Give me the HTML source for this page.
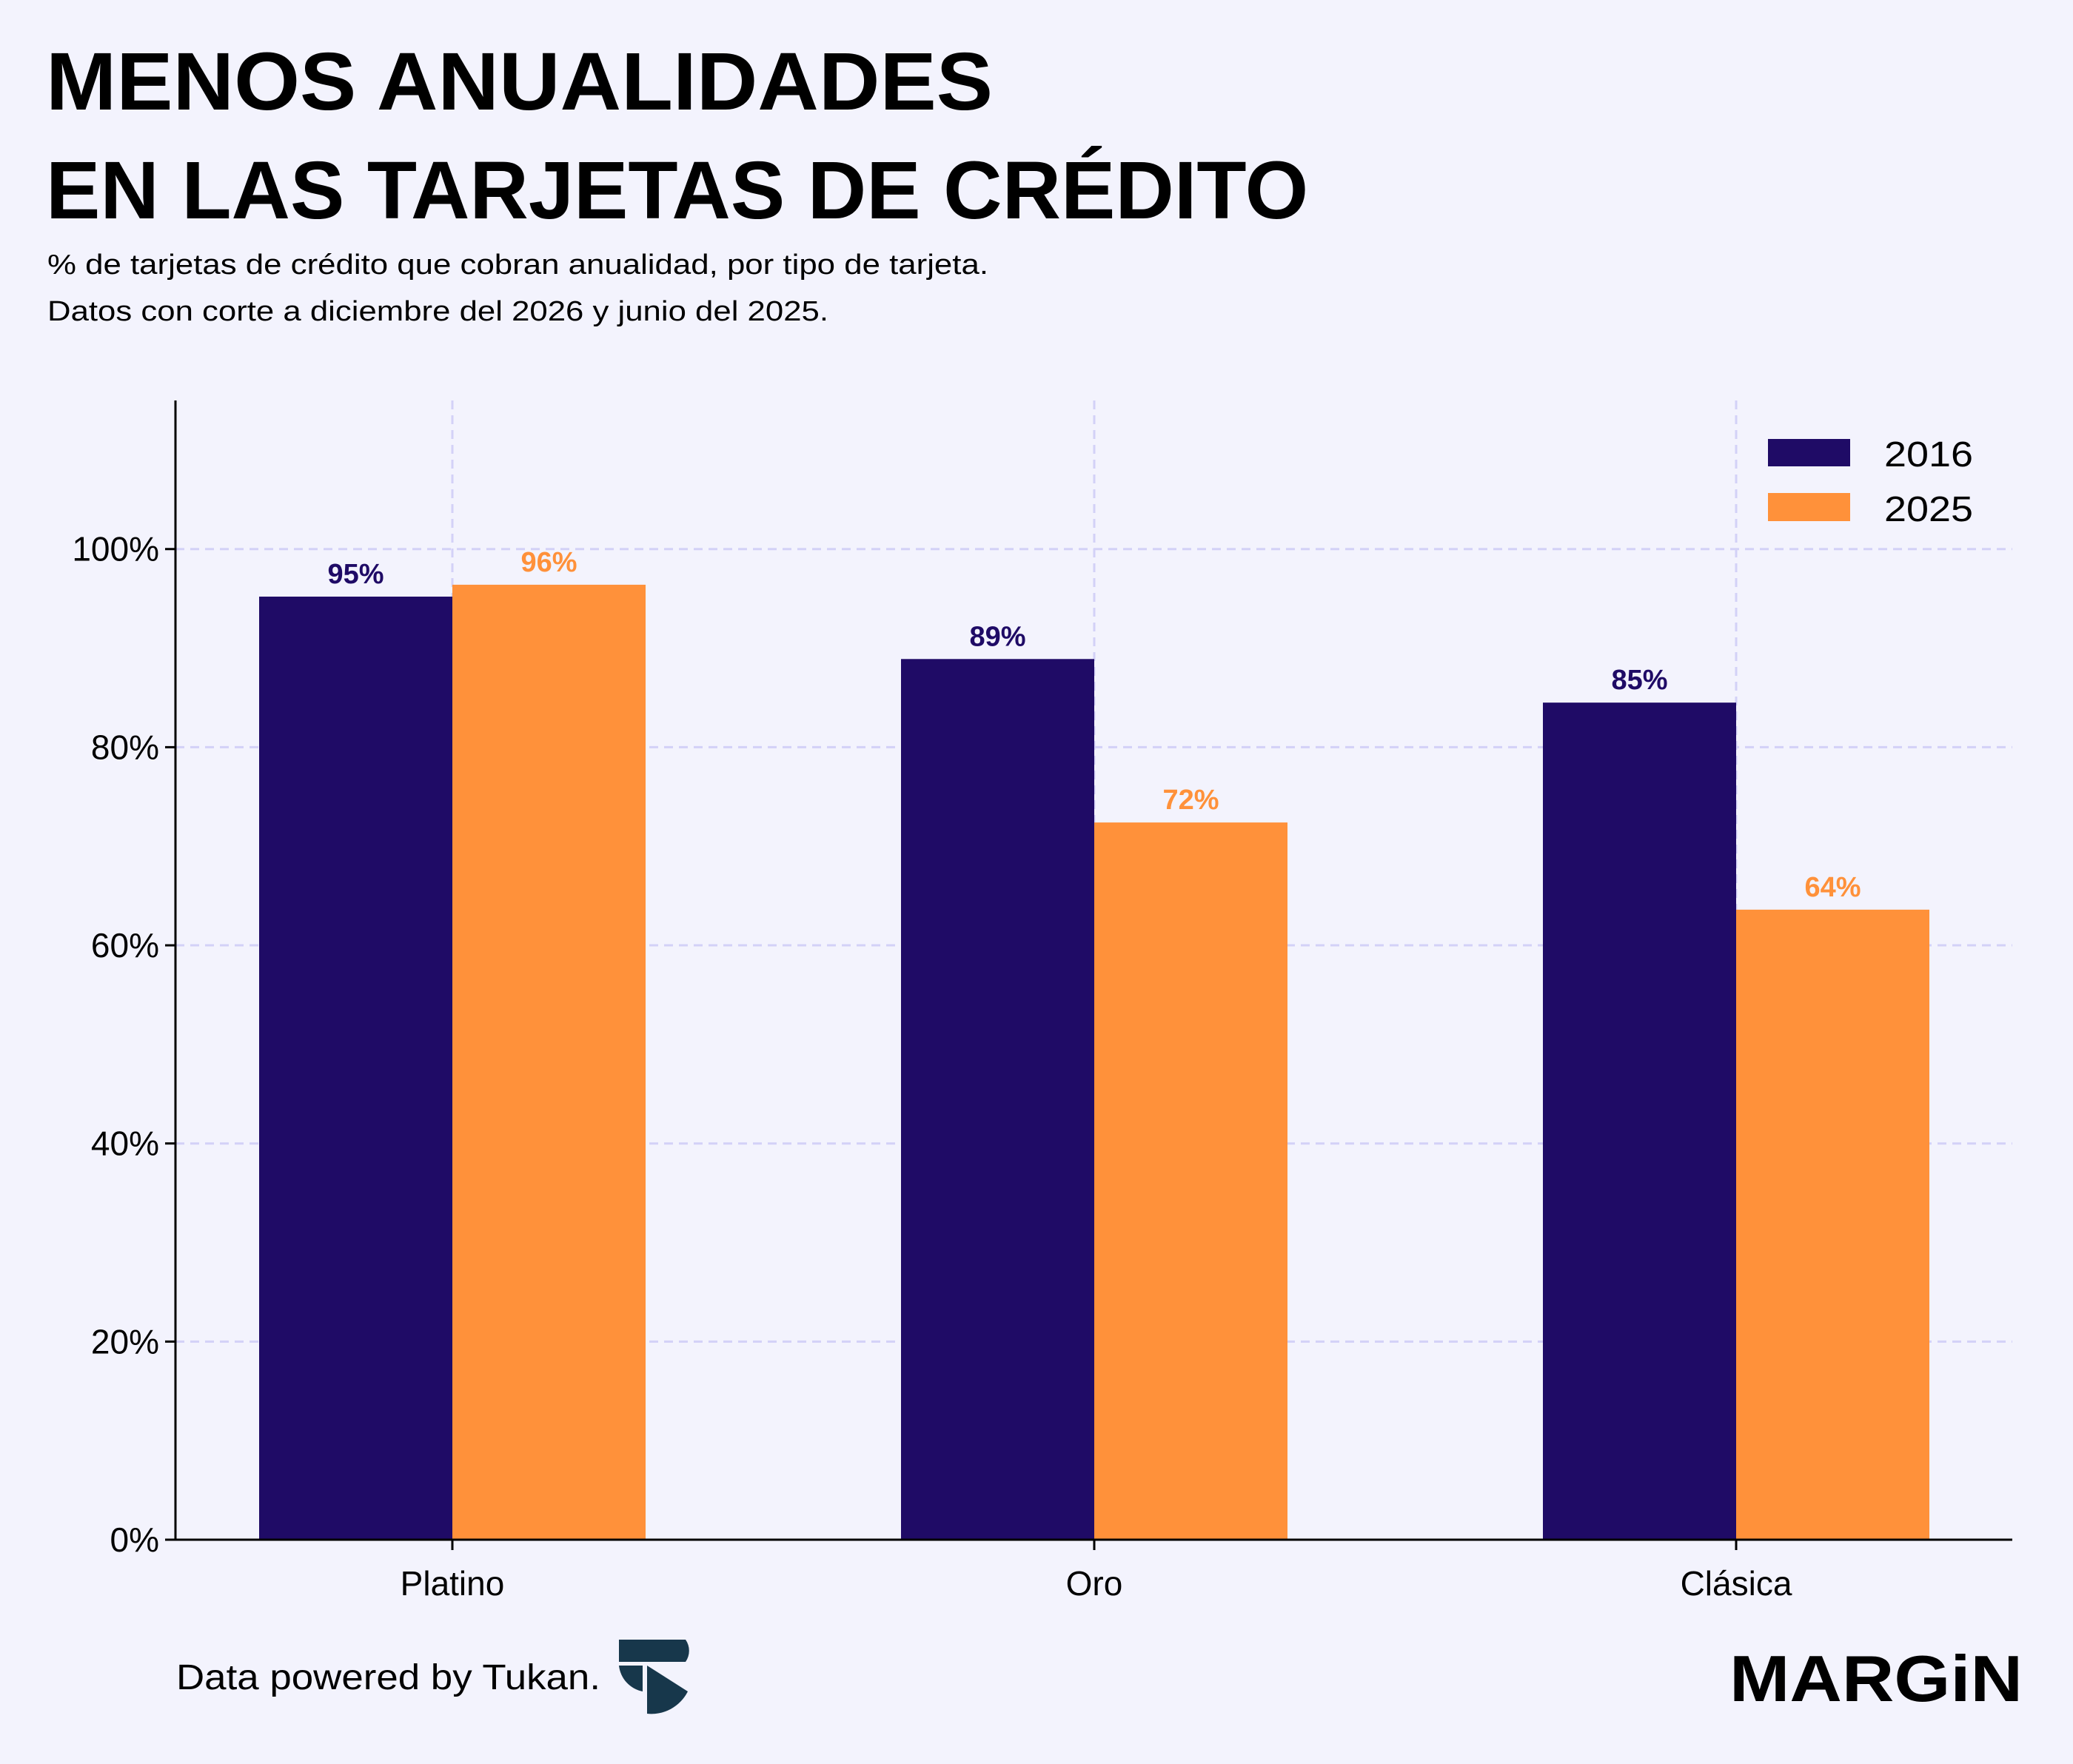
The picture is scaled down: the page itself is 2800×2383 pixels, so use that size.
<!DOCTYPE html>
<html><head><meta charset="utf-8"><style>
html,body{margin:0;padding:0;background:#f3f3fd;}
body{width:2800px;height:2383px;overflow:hidden;position:relative;font-family:"Liberation Sans",sans-serif;}
</style></head><body>
<svg id="chart" width="2800" height="2383" xmlns="http://www.w3.org/2000/svg" style="position:absolute;left:0;top:0">
<rect width="2800" height="2383" fill="#f3f3fd"/>
<text x="62" y="148" font-size="110" font-weight="bold" fill="#000" textLength="1279" lengthAdjust="spacingAndGlyphs">MENOS ANUALIDADES</text>
<text x="62" y="295" font-size="110" font-weight="bold" fill="#000">EN LAS TARJETAS DE CRÉDITO</text>
<text x="64" y="370" font-size="38" fill="#000" textLength="1271" lengthAdjust="spacingAndGlyphs">% de tarjetas de crédito que cobran anualidad, por tipo de tarjeta.</text>
<text x="64" y="433" font-size="38" fill="#000" textLength="1055" lengthAdjust="spacingAndGlyphs">Datos con corte a diciembre del 2026 y junio del 2025.</text>
<g id="grid"></g>
<g id="bars"></g>
<g id="axes"></g>
<rect x="2388" y="593" width="111" height="37" fill="#1f0b66"/>
<text x="2545" y="630" font-size="48" fill="#000" textLength="120" lengthAdjust="spacingAndGlyphs">2016</text>
<rect x="2388" y="666" width="111" height="38" fill="#ff913a"/>
<text x="2545" y="704" font-size="48" fill="#000" textLength="120" lengthAdjust="spacingAndGlyphs">2025</text>
<text x="238" y="2282" font-size="48" fill="#000" textLength="573" lengthAdjust="spacingAndGlyphs">Data powered by Tukan.</text>
<g fill="#17374b">
<path d="M836 2215 h90 a26 26 0 0 1 0 30 h-90 z"/>
<path d="M874 2250 v65 a55 55 0 0 0 55 -30 z"/>
<path d="M836 2250 h32 v35 a40 40 0 0 1 -32 -35 z"/>
</g>
<text x="2732" y="2298" font-size="88" font-weight="bold" fill="#000" text-anchor="end" textLength="396" lengthAdjust="spacingAndGlyphs">MARGiN</text>
</svg>
<script>
const categories=["Platino","Oro","Clásica"];
const values2016=[95.2,88.9,84.5];
const values2025=[96.4,72.4,63.6];
const labels2016=["95%","89%","85%"];
const labels2025=["96%","72%","64%"];
const yTicks=[0,20,40,60,80,100];
const yTickLabels=["0%","20%","40%","60%","80%","100%"];
const NS="http://www.w3.org/2000/svg";
const L=237,R=2718,B=2080,T=541,yMax=115;
const y=v=>B-(B-T)*v/yMax;
const x=i=>611+i*867;
const bw=261;
function mk(tag,attrs,parent){const e=document.createElementNS(NS,tag);for(const k in attrs)e.setAttribute(k,attrs[k]);parent.appendChild(e);return e;}
const grid=document.getElementById('grid'),bars=document.getElementById('bars'),axes=document.getElementById('axes');
yTicks.forEach((t,i)=>{
 if(t>0){const g=mk('line',{x1:L,x2:R,y1:y(t),y2:y(t),stroke:'#d3d1f7','stroke-width':3,'stroke-dasharray':'12 8'},grid);
 
 }
 const tk=mk('line',{x1:L-14,x2:L,y1:y(t),y2:y(t),stroke:'#000','stroke-width':3},axes);
 
 
 const tl=mk('text',{x:L-22,y:y(t)+16,'font-size':46,'text-anchor':'end',fill:'#000'},axes);
 tl.textContent=yTickLabels[i];
 
 
});
categories.forEach((c,i)=>{
 const g=mk('line',{x1:x(i),x2:x(i),y1:T,y2:B,stroke:'#d3d1f7','stroke-width':3,'stroke-dasharray':'12 8'},grid);
 
 
 const b1=mk('rect',{x:x(i)-bw,y:y(values2016[i]),width:bw,height:B-y(values2016[i]),fill:'#1f0b66'},bars);
 
 
 const b2=mk('rect',{x:x(i),y:y(values2025[i]),width:bw,height:B-y(values2025[i]),fill:'#ff913a'},bars);
 
 
 const t1=mk('text',{x:x(i)-bw/2,y:y(values2016[i])-18,'font-size':38,'font-weight':'bold','text-anchor':'middle',fill:'#1f0b66'},bars);
 t1.textContent=labels2016[i];
 
 
 const t2=mk('text',{x:x(i)+bw/2,y:y(values2025[i])-18,'font-size':38,'font-weight':'bold','text-anchor':'middle',fill:'#ff913a'},bars);
 t2.textContent=labels2025[i];
 
 
 const tk=mk('line',{x1:x(i),x2:x(i),y1:B,y2:B+14,stroke:'#000','stroke-width':3},axes);
 
 
 const xl=mk('text',{x:x(i),y:B+75,'font-size':46,'text-anchor':'middle',fill:'#000'},axes);
 xl.textContent=c;
 
 
});
const ya=mk('line',{x1:L,x2:L,y1:T,y2:B,stroke:'#000','stroke-width':3},axes);


const xa=mk('line',{x1:L,x2:R,y1:B,y2:B,stroke:'#000','stroke-width':3},axes);


</script>
</body></html>
